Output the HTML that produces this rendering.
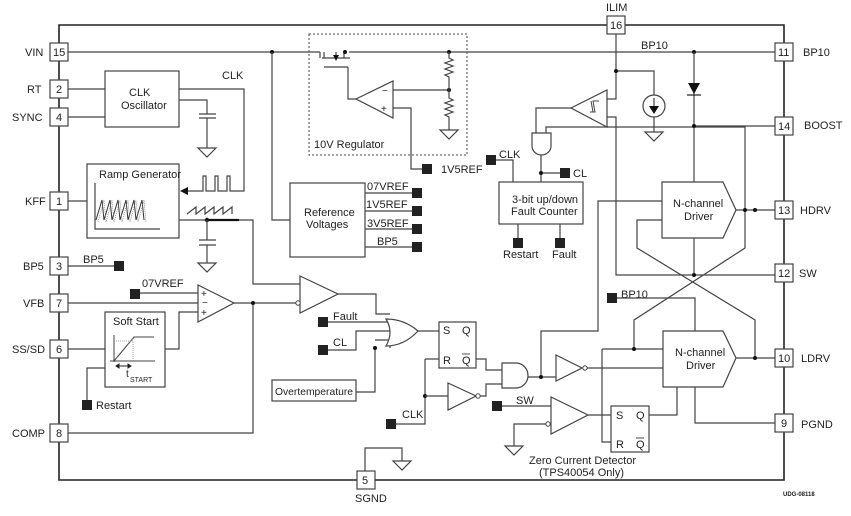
<!DOCTYPE html>
<html><head><meta charset="utf-8"><style>
html,body{margin:0;padding:0;background:#fff}
svg{display:block}
text{font-family:"Liberation Sans",Arial,sans-serif;font-size:11px;fill:#222}
.l{stroke:#444;stroke-width:1.2;fill:none}
.b{stroke:#222;stroke-width:1.6;fill:none}
.bx{stroke:#444;stroke-width:1.2;fill:#fff}
.sq{fill:#222}
.d{fill:#111}
</style></head><body>
<svg width="851" height="516" viewBox="0 0 851 516" xmlns="http://www.w3.org/2000/svg">
<defs>
<g id="gnd"><path d="M-9,0 H9 L0,9 Z" fill="#fff" stroke="#444" stroke-width="1.2"/></g>
</defs>
<path class="b" d="M59,25 H784 V480 H59 Z"/>
<g>
<rect class="bx" x="50" y="43" width="18" height="18"/><text x="53" y="56">15</text><text x="25" y="56">VIN</text>
<rect class="bx" x="50" y="80" width="18" height="18"/><text x="56" y="93">2</text><text x="27" y="93">RT</text>
<rect class="bx" x="50" y="108" width="18" height="18"/><text x="56" y="121">4</text><text x="12" y="121">SYNC</text>
<rect class="bx" x="50" y="192" width="18" height="18"/><text x="56" y="205">1</text><text x="25" y="205">KFF</text>
<rect class="bx" x="50" y="257" width="18" height="18"/><text x="56" y="270">3</text><text x="23" y="270">BP5</text>
<rect class="bx" x="50" y="294" width="18" height="18"/><text x="56" y="307">7</text><text x="23" y="307">VFB</text>
<rect class="bx" x="50" y="340" width="18" height="18"/><text x="56" y="353">6</text><text x="12" y="353">SS/SD</text>
<rect class="bx" x="50" y="424" width="18" height="18"/><text x="56" y="437">8</text><text x="12" y="437">COMP</text>
<rect class="bx" x="357" y="471" width="18" height="18"/><text x="362" y="484">5</text><text x="355" y="502">SGND</text>
<rect class="bx" x="607" y="16" width="18" height="18"/><text x="610" y="29">16</text><text x="606" y="11">ILIM</text>
<rect class="bx" x="775" y="43" width="18" height="18"/><text x="778" y="56">11</text><text x="803" y="56">BP10</text>
<rect class="bx" x="775" y="117" width="18" height="18"/><text x="778" y="130">14</text><text x="804" y="129">BOOST</text>
<rect class="bx" x="775" y="201" width="18" height="18"/><text x="778" y="214">13</text><text x="800" y="214">HDRV</text>
<rect class="bx" x="775" y="264" width="18" height="18"/><text x="778" y="277">12</text><text x="799" y="277">SW</text>
<rect class="bx" x="775" y="349" width="18" height="18"/><text x="778" y="362">10</text><text x="801" y="362">LDRV</text>
<rect class="bx" x="775" y="414" width="18" height="18"/><text x="781" y="427">9</text><text x="801" y="428">PGND</text>
</g>
<text x="783" y="496" style="font-size:6px;font-weight:bold">UDG-08118</text>

<path class="l" d="M68,52 H320 M324,52 V58 M344,52 V58 M349,52 H775"/>
<path class="l" d="M320,52 V58 M322,58 H350 M324,67 H348 M336,58 V52"/>
<path d="M333,55 H339 L336,61 Z" class="d"/>
<circle cx="345" cy="52" r="2" class="d"/>
<circle cx="272" cy="52" r="2" class="d"/>
<path class="l" d="M272,52 V220 H290"/>
<rect x="309" y="34" width="158" height="121" fill="none" stroke="#444" stroke-width="1" stroke-dasharray="2,2"/>
<text x="314" y="148">10V Regulator</text>
<path class="l" d="M348,67 V99 H356"/>
<path class="bx" d="M356,99 L393,81 V118 Z"/>
<text x="382" y="94" style="font-size:10px">−</text><text x="381" y="112" style="font-size:10px">+</text>
<path class="l" d="M393,90 H449 M393,108 H411 V169 H422"/>
<circle cx="449" cy="52" r="2" class="d"/><circle cx="449" cy="90" r="2" class="d"/>
<path class="l" d="M449,52 V58 l4,2 l-8,3 l8,3 l-8,3 l8,3 l-8,3 l4,2 V90 V98 l4,2 l-8,3 l8,3 l-8,3 l8,3 l-8,3 l4,2 V130"/>
<use href="#gnd" x="449" y="130"/>
<rect class="sq" x="422" y="164" width="10" height="10"/><text x="441" y="173">1V5REF</text>
<text x="641" y="49">BP10</text>

<rect class="bx" x="105" y="71" width="74" height="56"/>
<text x="129" y="96">CLK</text><text x="121" y="109">Oscillator</text>
<path class="l" d="M68,89 H105 M68,117 H105"/>
<text x="222" y="79">CLK</text>
<path class="l" d="M179,89 H244 V191 H236 M179,100 H207 V114 M199,114 H216 M199,118 H216 M207,118 V148"/>
<use href="#gnd" x="207" y="148"/>
<path class="l" d="M236,191 H230 V176 H227 V191 H218 V176 H215 V191 H206 V176 H203 V191 H186"/>
<path d="M180,191 L188,187 V195 Z" class="d"/>
<rect class="bx" x="87" y="164" width="92" height="74"/>
<text x="99" y="178">Ramp Generator</text>
<path class="l" d="M95,183 V229 H160" stroke-width="1"/>
<path d="M96,220 l6,-20 l2,20 l6,-20 l2,20 l6,-20 l2,20 l6,-20 l2,20 l6,-20 l2,20 l6,-20 l2,20" fill="none" stroke="#333" stroke-width="1"/>
<path d="M98,222 l6,-22 l2,22 l6,-22 l2,22 l6,-22 l2,22 l6,-22 l2,22 l6,-22 l2,22 l6,-22 l2,22" fill="none" stroke="#888" stroke-width="0.8" stroke-dasharray="1,1"/>
<path class="l" d="M68,201 H87"/>
<path class="l" d="M187,214 l9,-7 v7 l9,-7 v7 l9,-7 v7 l9,-7 v7 l9,-7 v7"/>
<path class="l" d="M179,220 H253 V284 H300"/>
<path d="M207,220 H239" stroke="#111" stroke-width="2.2"/>
<circle cx="207" cy="220" r="2.2" class="d"/>
<path class="l" d="M207,220 V240 M199,240 H216 M199,245 H216 M207,245 V263"/>
<use href="#gnd" x="207" y="263"/>

<rect class="bx" x="290" y="183" width="75" height="74"/>
<text x="304" y="216">Reference</text><text x="306" y="228">Voltages</text>
<path class="l" d="M365,193 H412 M365,211 H412 M365,229 H412 M365,247 H412"/>
<text x="367" y="190">07VREF</text><text x="366" y="208">1V5REF</text><text x="367" y="227">3V5REF</text><text x="377" y="245">BP5</text>
<rect class="sq" x="412" y="188" width="10" height="10"/><rect class="sq" x="412" y="206" width="10" height="10"/><rect class="sq" x="412" y="224" width="10" height="10"/><rect class="sq" x="412" y="242" width="10" height="10"/>

<path class="l" d="M68,266 H114"/><text x="83" y="263">BP5</text><rect class="sq" x="114" y="261" width="10" height="10"/>
<rect class="sq" x="130" y="289" width="10" height="10"/><text x="142" y="287">07VREF</text>
<path class="l" d="M140,293 H198 M68,303 H198 M165,349 H179 V312 H198"/>
<path class="bx" d="M198,285 L234,303 L198,322 Z"/>
<text x="201" y="297" style="font-size:10px">+</text><text x="202" y="306" style="font-size:10px">−</text><text x="201" y="316" style="font-size:10px">+</text>
<path class="l" d="M234,303 H298 M253,303 V433 H68"/>
<circle cx="253" cy="303" r="2" class="d"/>
<rect class="bx" x="105" y="312" width="60" height="75"/>
<text x="113" y="325">Soft Start</text>
<path class="l" d="M68,349 H105 M87,400 V368 H105"/>
<path d="M114,335 V362 M110,361 H155 M114,361 L134,337 H154" stroke="#444" stroke-width="1" fill="none"/>
<path d="M114,341 H133 V361" stroke="#888" stroke-width="0.8" stroke-dasharray="1,1" fill="none"/>
<path d="M116,366 H131 M116,366 l3,-2 v4 z M131,366 l-3,-2 v4 z" stroke="#222" stroke-width="1" fill="#222"/>
<text x="126" y="377" style="font-size:10px">t</text><text x="130" y="382" style="font-size:7px">START</text>
<rect class="sq" x="82" y="400" width="10" height="10"/><text x="96" y="409">Restart</text>

<path class="bx" d="M300,276 L338,294 L300,313 Z"/>
<circle cx="298" cy="303" r="2.2" fill="#fff" stroke="#444"/>
<path class="l" d="M338,294 H376 V314 H390"/>
<rect class="sq" x="318" y="317" width="10" height="10"/><text x="333" y="320">Fault</text>
<path class="l" d="M328,322 H390"/>
<rect class="sq" x="318" y="345" width="10" height="10"/><text x="333" y="346">CL</text>
<path class="l" d="M328,350 H356 V331 H392"/>
<rect class="bx" x="272" y="380" width="84" height="21"/><text x="275" y="395" style="font-size:10.5px" textLength="78" lengthAdjust="spacingAndGlyphs">Overtemperature</text>
<path class="l" d="M356,392 H375 V348 M375,340 H390 V348"/>
<circle cx="375" cy="348" r="2" class="d"/>
<path class="bx" d="M386,319 Q404,319 418,331 Q404,346 386,346 Q394,332 386,319 Z"/>
<path class="l" d="M418,331 H439"/>
<rect class="bx" x="439" y="322" width="37" height="46"/>
<text x="443" y="334">S</text><text x="462" y="334">Q</text><text x="443" y="364">R</text><text x="462" y="364">Q</text>
<path d="M462,354 H470" stroke="#222" stroke-width="0.8"/>
<path class="l" d="M476,359 H486 V370 H502 M478,396 H486 V384 H502 M425,359 H439 M425,359 V424 H396"/>
<rect class="sq" x="386" y="419" width="10" height="10"/><text x="402" y="418">CLK</text>
<circle cx="425" cy="396" r="2" class="d"/>
<path class="l" d="M425,396 H448"/>
<path class="bx" d="M448,383 L476,396 L448,410 Z"/><circle cx="478" cy="396" r="2.2" fill="#fff" stroke="#444"/>
<path class="bx" d="M502,363 H516 A12,12.5 0 0 1 516,388 H502 Z"/>
<path class="l" d="M528,377 H556 M541,377 V331 H598 V201 H662"/>
<circle cx="541" cy="377" r="2" class="d"/>
<path class="bx" d="M556,355 L582,368 L556,381 Z"/><circle cx="585" cy="368" r="2.2" fill="#fff" stroke="#444"/>
<path class="l" d="M587,368 H663"/>
<rect class="sq" x="492" y="401" width="10" height="10"/><text x="516" y="404">SW</text>
<path class="l" d="M502,406 H551 M548,424 H514 V446"/>
<use href="#gnd" x="514" y="446"/>
<path class="bx" d="M551,397 L588,415 L551,434 Z"/><circle cx="548" cy="424" r="2.2" fill="#fff" stroke="#444"/>
<path class="l" d="M588,415 H611 M602,349 V442 H611"/>
<rect class="bx" x="611" y="406" width="38" height="46"/>
<text x="616" y="419">S</text><text x="636" y="419">Q</text><text x="616" y="448">R</text><text x="636" y="448">Q</text>
<path d="M636,438 H644" stroke="#222" stroke-width="0.8"/>
<text x="529" y="464">Zero Current Detector</text><text x="539" y="476">(TPS40054 Only)</text>
<path class="l" d="M649,415 H677 V387 M695,387 V423 H775"/>
<path class="l" d="M365,471 V448 H402 V461"/>
<use href="#gnd" x="402" y="461"/>

<path class="l" d="M616,34 V99 H607 M616,71 H654 V95 M654,117 V132 M607,117 H616 V275 H775"/>
<circle cx="616" cy="71" r="2" class="d"/>
<circle cx="654" cy="106" r="11" fill="#fff" stroke="#444" stroke-width="1.2"/>
<path class="l" d="M654,98 V110"/><path d="M649,106 H659 L654,114 Z" class="d"/>
<use href="#gnd" x="654" y="132"/>
<path class="bx" d="M571,108 L607,90 V127 Z"/>
<path d="M590,112 H595 L593,101 H599 M593,112 L591,101" stroke="#444" stroke-width="1" fill="none"/>
<path class="l" d="M571,108 H536 V133 M546,133 V127 H745 V210"/>
<path class="bx" d="M532,133 H551 V146 A9.5,9 0 0 1 532,146 Z"/>
<path class="l" d="M541,155 V182 M541,173 H560"/>
<circle cx="541" cy="173" r="2" class="d"/>
<rect class="sq" x="560" y="168" width="10" height="10"/><text x="573" y="177">CL</text>
<rect class="sq" x="486" y="155" width="10" height="10"/><text x="499" y="158">CLK</text>
<path class="l" d="M496,160 H513 V182"/>
<path d="M510,182 L513,186 L516,182" stroke="#444" fill="none"/>
<rect class="bx" x="499" y="182" width="84" height="42"/>
<text x="512" y="203">3-bit up/down</text><text x="511" y="215">Fault Counter</text>
<path class="l" d="M518,224 V238 M560,224 V238"/>
<rect class="sq" x="513" y="238" width="10" height="10"/><rect class="sq" x="555" y="238" width="10" height="10"/>
<text x="503" y="258">Restart</text><text x="552" y="258">Fault</text>
<circle cx="694" cy="52" r="2" class="d"/>
<path class="l" d="M694,52 V182 M694,126 H775"/>
<path d="M688,83 H700 L694,94 Z" class="d"/><path d="M687,95 H701" stroke="#222" stroke-width="1.2"/>
<circle cx="694" cy="126" r="2" class="d"/>
<path class="bx" d="M662,182 H723 L736,210 L723,238 H662 Z"/>
<text x="673" y="207">N-channel</text><text x="684" y="220">Driver</text>
<path class="l" d="M736,210 H775 M662,220 H637 V248 L755,320 V358 M745,210 V248 L634,320 V349 M694,238 V275"/>
<circle cx="745" cy="210" r="2" class="d"/><circle cx="755" cy="210" r="2" class="d"/>
<circle cx="694" cy="275" r="2" class="d"/>
<rect class="sq" x="607" y="293" width="10" height="10"/><text x="621" y="298">BP10</text>
<path class="l" d="M617,298 H695 V331 M602,349 H663"/>
<circle cx="634" cy="349" r="2" class="d"/>
<path class="bx" d="M663,331 H723 L736,358 L723,387 H663 Z"/>
<text x="675" y="356">N-channel</text><text x="686" y="369">Driver</text>
<path class="l" d="M736,358 H775"/>
<circle cx="755" cy="358" r="2" class="d"/>
</svg>
</body></html>
